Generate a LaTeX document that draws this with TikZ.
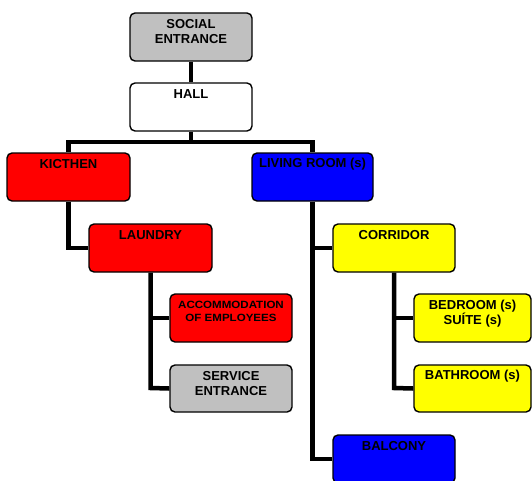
\documentclass[tikz,border=0pt]{standalone}
\usepackage{fontspec}
\setmainfont{Liberation Sans}
\definecolor{cgray}{HTML}{C0C0C0}
\definecolor{cred}{HTML}{FF0000}
\definecolor{cblue}{HTML}{0000FF}
\definecolor{cyellow}{HTML}{FFFF00}
\tikzset{
  room/.style={draw=black, line width=1.4pt, rounded corners=5pt, inner sep=0pt},
  txt/.style={anchor=north, inner sep=0pt, align=center, text=black,
    font=\bfseries\fontsize{13}{14.5}\selectfont},
  link/.style={draw=black, line width=4.5pt, line join=miter, line cap=butt},
}
\newcommand{\roombox}[6]{% name, x1, y1, x2, y2, colour
  \node[room, fill=#6, minimum width={(#4-#2)*1pt}, minimum height={(#5-#3)*1pt}]
    (#1) at ({(#2+#4)/2},{(#3+#5)/2}) {};}
\begin{document}
\begin{tikzpicture}[x=1pt,y=-1pt]
\useasboundingbox (0,0) rectangle (532,480);
\begin{scope}
\clip (0,0) rectangle (532,480);
% coordinates for connectors
\coordinate (busL) at (68.5,142);
\coordinate (busR) at (312.5,142);
\coordinate (busM) at (191,142);
\coordinate (kdown) at (68.5,248);
\coordinate (ldown) at (150.5,388);
\coordinate (lvdown) at (312.5,459);
\coordinate (cdown) at (394,388);
% boxes (invisible first, to have anchors)
\begin{scope}[opacity=0]
\roombox{se}{130}{13}{252}{61}{cgray}
\roombox{hall}{130}{83}{252}{131}{white}
\roombox{kit}{7}{153}{130}{201}{cred}
\roombox{liv}{252}{153}{373}{201}{cblue}
\roombox{lau}{89}{224}{212}{272}{cred}
\roombox{cor}{333}{224}{455}{272}{cyellow}
\roombox{acc}{170}{294}{292}{342}{cred}
\roombox{ser}{170}{365}{292}{412}{cgray}
\roombox{bed}{414}{294}{531}{342}{cyellow}
\roombox{bat}{414}{365}{531}{412}{cyellow}
\roombox{bal}{333}{435}{455}{483}{cblue}
\end{scope}
% connectors
\draw[link] (se.south) -- (hall.north);
\draw[link] (hall.south) -- (busM);
\draw[link] (kit.north) -- (busL) -- (busR) -- (liv.north);
\draw[link] (kit.south) -- (kdown) -- (lau.west);
\draw[link] (lau.south) -- (ldown) -- (ser.west);
\draw[link] (lau.south |- acc.west) -- (acc.west);
\draw[link] (liv.south) -- (lvdown) -- (bal.west);
\draw[link] (liv.south |- cor.west) -- (cor.west);
\draw[link] (cor.south) -- (cdown) -- (bat.west);
\draw[link] (cor.south |- bed.west) -- (bed.west);
% visible boxes
\roombox{se2}{130}{13}{252}{61}{cgray}
\roombox{hall2}{130}{83}{252}{131}{white}
\roombox{kit2}{7}{153}{130}{201}{cred}
\roombox{liv2}{252}{153}{373}{201}{cblue}
\roombox{lau2}{89}{224}{212}{272}{cred}
\roombox{cor2}{333}{224}{455}{272}{cyellow}
\roombox{acc2}{170}{294}{292}{342}{cred}
\roombox{ser2}{170}{365}{292}{412}{cgray}
\roombox{bed2}{414}{294}{531}{342}{cyellow}
\roombox{bat2}{414}{365}{531}{412}{cyellow}
\roombox{bal2}{333}{435}{455}{483}{cblue}
% texts
\node[txt] (tse) at ([yshift=-7pt]se.north) {SOCIAL\\ENTRANCE};
\node[txt] (thall) at ([yshift=-7pt]hall.north) {HALL};
\node[txt] (tkit) at ([yshift=-7pt]kit.north) {KICTHEN};
\node[txt] (tliv) at ([yshift=-6pt]liv.north) {LIVING ROOM (s)};
\node[txt] (tlau) at ([yshift=-7pt]lau.north) {LAUNDRY};
\node[txt] (tcor) at ([yshift=-7pt]cor.north) {CORRIDOR};
\node[txt, font=\bfseries\fontsize{10.5}{12.7}\selectfont] (tacc) at ([yshift=-7.5pt]acc.north)
  {\scalebox{1.1}[1]{ACCOMMODATION}\\\scalebox{1.1}[1]{OF EMPLOYEES}};
\node[txt] (tser) at ([yshift=-7pt]ser.north) {SERVICE\\ENTRANCE};
\node[txt, font=\bfseries\fontsize{13}{15}\selectfont] (tbed) at ([yshift=-7pt]bed.north) {BEDROOM (s)\\SUÍTE (s)};
\node[txt] (tbat) at ([yshift=-6pt]bat.north) {BATHROOM (s)};
\node[txt] (tbal) at ([yshift=-7pt]bal.north) {BALCONY};
\end{scope}
\end{tikzpicture}
\end{document}
